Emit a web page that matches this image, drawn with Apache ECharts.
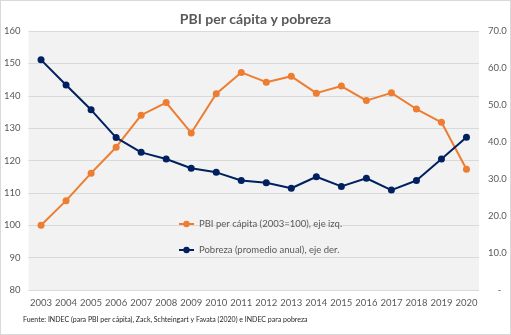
<!DOCTYPE html>
<html><head><meta charset="utf-8">
<script src="https://cdn.jsdelivr.net/npm/echarts@6/dist/echarts.min.js"></script>
<style>html,body{margin:0;padding:0;background:#fff}#c{width:511px;height:335px;box-sizing:border-box;border:1px solid #d9d9d9}</style>
</head><body><div id="c"></div>
<script>
const years = ['2003','2004','2005','2006','2007','2008','2009','2010','2011','2012','2013','2014','2015','2016','2017','2018','2019','2020'];
const pbi = [100, 107.6, 116.1, 124.1, 134.0, 137.9, 128.5, 140.6, 147.2, 144.2, 146.0, 140.8, 143.0, 138.5, 140.9, 135.9, 131.8, 117.3];
const pobreza = [62.2, 55.4, 48.7, 41.2, 37.2, 35.4, 32.9, 31.8, 29.6, 29.0, 27.5, 30.6, 28.0, 30.2, 27.0, 29.6, 35.4, 41.3];
const seriesNames = ['PBI per cápita (2003=100), eje izq.', 'Pobreza (promedio anual), eje der.'];
const titleText = 'PBI per cápita y pobreza';
const sourceText = 'Fuente: INDEC (para PBI per cápita), Zack, Schteingart y Favata (2020) e INDEC para pobreza';

const FONT = 'Lato';
const chart = echarts.init(document.getElementById('c'), null, {renderer: 'canvas'});
chart.setOption({
  animation: false,
  textStyle: {fontFamily: FONT},
  title: {text: titleText, left: 'center', top: 6,
    textStyle: {fontFamily: FONT, fontSize: 14, fontWeight: 'bold', color: '#595959'}},
  grid: {left: 25, right: 31, top: 30, bottom: 44, containLabel: false,
    show: true, backgroundColor: '#f2f2f2', borderWidth: 0},
  legend: {orient: 'vertical', left: 177, top: 218, padding: 0, itemGap: 16, itemWidth: 15, itemHeight: 8,
    textStyle: {fontFamily: FONT, fontSize: 9.5, color: '#595959'},
    data: seriesNames},
  graphic: [{type: 'text', left: 22, top: 315,
    style: {text: sourceText, font: '7px ' + FONT, fill: '#262626'}}],
  xAxis: {type: 'category', data: years, boundaryGap: true,
    axisLine: {show: false}, axisTick: {show: false},
    axisLabel: {color: '#595959', fontSize: 9.5, fontFamily: FONT, margin: 8, interval: 0}},
  yAxis: [
    {type: 'value', min: 80, max: 160, interval: 10,
      axisLine: {show: false}, axisTick: {show: false},
      axisLabel: {color: '#595959', fontSize: 9.5, fontFamily: FONT, margin: 8},
      splitLine: {lineStyle: {color: '#d9d9d9', width: 1}}},
    {type: 'value', min: 0, max: 70, interval: 10, position: 'right',
      axisLine: {show: false}, axisTick: {show: false},
      axisLabel: {color: '#595959', fontSize: 9.5, fontFamily: FONT, margin: 9,
        formatter: v => v === 0 ? '    -' : v.toFixed(1)},
      splitLine: {show: false}}
  ],
  series: [
    {name: seriesNames[0], type: 'line', yAxisIndex: 0, data: pbi,
      symbol: 'circle', symbolSize: 7,
      lineStyle: {color: '#ed7d31', width: 2}, itemStyle: {color: '#ed7d31'}},
    {name: seriesNames[1], type: 'line', yAxisIndex: 1, data: pobreza,
      symbol: 'circle', symbolSize: 7,
      lineStyle: {color: '#002060', width: 2}, itemStyle: {color: '#002060'}}
  ]
});
</script></body></html>
